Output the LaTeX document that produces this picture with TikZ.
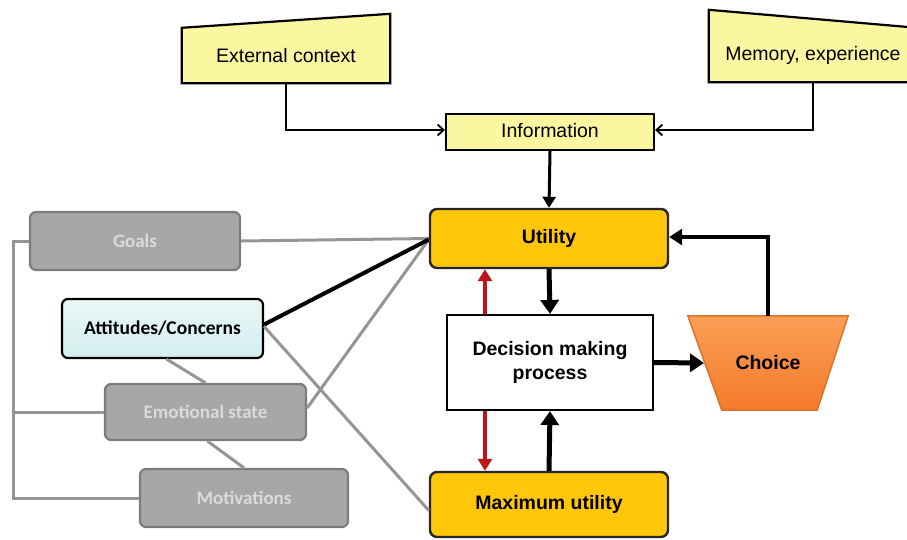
\documentclass[tikz,border=0pt]{standalone}
\usepackage{fontspec}
\setmainfont{Liberation Sans}
\newfontfamily\calib{Carlito}
\usetikzlibrary{arrows.meta,backgrounds}
\definecolor{paleyellow}{HTML}{FAF7A0}
\definecolor{gold}{HTML}{FFC60A}
\definecolor{orangetop}{HTML}{FA9F55}
\definecolor{orangebot}{HTML}{F47A2A}
\definecolor{orangeedge}{HTML}{D9732E}
\definecolor{boxgray}{HTML}{A7A7A7}
\definecolor{edgegray}{HTML}{7C7C7C}
\definecolor{textgray}{HTML}{DADADA}
\definecolor{linegray}{HTML}{959595}
\definecolor{darkred}{HTML}{C0141C}
\definecolor{paleteal}{HTML}{E9F7F7}
\definecolor{paleteal2}{HTML}{D3EEEE}
\begin{document}
\begin{tikzpicture}[x=1pt,y=-1pt,
  base/.style={font=\fontsize{19.5}{23}\selectfont, inner sep=0pt, align=center},
  inbox/.style={draw=black, line width=2.2pt, fill=paleyellow},
  mainbox/.style={base, draw=black!85, line width=2.4pt, fill=gold, rounded corners=7pt, font=\fontsize{19.5}{23}\selectfont\bfseries},
  procbox/.style={base, draw=black, line width=2.2pt, fill=white, font=\fontsize{19.5}{24}\selectfont\bfseries},
  graybox/.style={base, draw=edgegray, line width=2.2pt, fill=boxgray, rounded corners=6pt, text=textgray, font=\calib\fontsize{19}{22}\selectfont\bfseries},
  tealbox/.style={base, draw=black, line width=2.2pt, top color=paleteal, bottom color=paleteal2, rounded corners=6pt, font=\calib\fontsize{19.5}{22}\selectfont\bfseries},
  thinarrow/.style={draw=black, line width=1.8pt, -{Straight Barb[length=6pt,width=11pt,line width=1.8pt]}},
  midarrow/.style={draw=black, line width=3pt, -{Triangle[length=11pt,width=13pt]}},
  fatarrow/.style={draw=black, line width=5pt, -{Triangle[length=14pt,width=18pt]}},
  backarrow/.style={draw=black, line width=4pt, -{Triangle[length=13pt,width=16pt]}},
  redarrow/.style={draw=darkred, line width=3.4pt, -{Triangle[length=12pt,width=14pt]}},
  grayline/.style={draw=linegray, line width=3pt},
]
\useasboundingbox (0,0) rectangle (907,539);

% input boxes with slanted tops
\node[base, minimum width=208pt, minimum height=55pt] (ext) at (286,55.5) {External context};
\node[base, minimum width=208pt, minimum height=54pt] (mem) at (813,55) {Memory, experience};
\begin{scope}[on background layer]
  \path[inbox] (ext.south west) -- (ext.north west) -- ([yshift=14pt]ext.north east) -- (ext.south east) -- cycle;
  \path[inbox] (mem.south west) -- ([yshift=18pt]mem.north west) -- (mem.north east) -- (mem.south east) -- cycle;
\end{scope}

\node[base, draw=black, line width=2.2pt, fill=paleyellow, minimum width=208pt, minimum height=36pt] (info) at (550,132) {\raisebox{3pt}{Information}};

% main column
\node[mainbox, minimum width=238pt, minimum height=59pt] (util) at (549,238.5) {Utility};
\node[procbox, minimum width=206pt, minimum height=95pt] (dec) at (550,362.5) {Decision making\\process};
\node[mainbox, minimum width=238pt, minimum height=65pt] (maxu) at (549,504.5) {Maximum utility};

% choice trapezoid
\node[base, minimum width=160pt, minimum height=94pt, font=\fontsize{19.5}{23}\selectfont\bfseries] (choice) at (768,363) {Choice};
\begin{scope}[on background layer]
  \shade[top color=orangetop, bottom color=orangebot, draw=orangeedge, line width=1.5pt]
    (choice.north west) -- (choice.north east) -- ([xshift=-31pt]choice.south east) -- ([xshift=34pt]choice.south west) -- cycle;
\end{scope}
\coordinate (choicein) at (704,363);

% left-hand factors
\node[graybox, minimum width=210pt, minimum height=58pt] (goals) at (135,241) {Goals};
\node[tealbox, minimum width=201pt, minimum height=59pt] (att) at (162.5,328.5) {Attitudes/Concerns};
\node[graybox, minimum width=201pt, minimum height=56pt] (emo) at (205.5,412) {Emotional state};
\node[graybox, minimum width=208pt, minimum height=58pt] (mot) at (244,498) {Motivations};

% grey bracket joining the factors
\coordinate (spine) at (13,0);
\draw[grayline] (goals.west) -- (goals.west -| spine) -- (mot.west -| spine) -- (mot.west);
\draw[grayline] (emo.west -| spine) -- (emo.west);

% grey links
\draw[grayline] (goals.east) -- (util.west);
\draw[grayline] ([xshift=4pt]att.south) -- (emo.north);
\draw[grayline] ([xshift=2pt]emo.south) -- (mot.north);
\draw[grayline] ([yshift=2pt]att.east) -- ([yshift=-6pt]maxu.west);
\draw[grayline] ([yshift=4pt]emo.east) -- ([yshift=-1pt]util.west);
\draw[draw=black, line width=4pt] ([yshift=4pt]att.east) -- ([yshift=-1pt]util.west);

% information flow
\draw[thinarrow] (ext.south) |- ([yshift=2pt]info.west);
\draw[thinarrow] (mem.south) |- ([yshift=2pt]info.east);
\draw[midarrow] (info.south) -- (util.north);

% decision loop
\draw[fatarrow] (util.south) -- (dec.north);
\draw[fatarrow] (maxu.north) -- (dec.south);
\draw[redarrow] ([xshift=-65pt]dec.north) -- ([xshift=-64pt]util.south);
\draw[redarrow] ([xshift=-65pt]dec.south) -- ([xshift=-64pt]maxu.north);
\draw[fatarrow] (dec.east) -- (choicein);
\draw[backarrow] (choice.north) |- ([yshift=1.5pt]util.east);
\end{tikzpicture}
\end{document}
